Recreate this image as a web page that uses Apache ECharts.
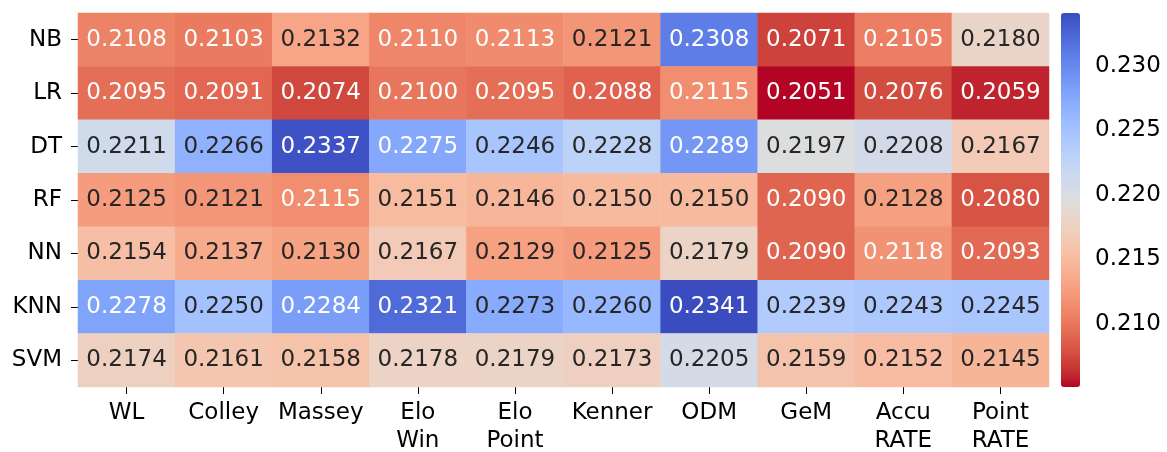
<!DOCTYPE html>
<html>
<head>
<meta charset="utf-8">
<script src="https://cdn.jsdelivr.net/npm/echarts@6/dist/echarts.min.js"></script>
<style>
  html, body { margin: 0; padding: 0; background: #fff; }
  #chart { width: 1167px; height: 452px; }
</style>
</head>
<body>
<div id="chart"></div>
<script>
// Row (model) and column (rating method) labels
const models = ['NB', 'LR', 'DT', 'RF', 'NN', 'KNN', 'SVM'];
const methods = ['WL', 'Colley', 'Massey', 'Elo\nWin', 'Elo\nPoint', 'Kenner', 'ODM', 'GeM', 'Accu\nRATE', 'Point\nRATE'];

// Scores per model, in the order of `methods`
const scoresNB  = [0.2108, 0.2103, 0.2132, 0.2110, 0.2113, 0.2121, 0.2308, 0.2071, 0.2105, 0.2180];
const scoresLR  = [0.2095, 0.2091, 0.2074, 0.2100, 0.2095, 0.2088, 0.2115, 0.2051, 0.2076, 0.2059];
const scoresDT  = [0.2211, 0.2266, 0.2337, 0.2275, 0.2246, 0.2228, 0.2289, 0.2197, 0.2208, 0.2167];
const scoresRF  = [0.2125, 0.2121, 0.2115, 0.2151, 0.2146, 0.2150, 0.2150, 0.2090, 0.2128, 0.2080];
const scoresNN  = [0.2154, 0.2137, 0.2130, 0.2167, 0.2129, 0.2125, 0.2179, 0.2090, 0.2118, 0.2093];
const scoresKNN = [0.2278, 0.2250, 0.2284, 0.2321, 0.2273, 0.2260, 0.2341, 0.2239, 0.2243, 0.2245];
const scoresSVM = [0.2174, 0.2161, 0.2158, 0.2178, 0.2179, 0.2173, 0.2205, 0.2159, 0.2152, 0.2145];

// Colour bar range and ticks
const colorMin = 0.2051;
const colorMax = 0.2341;
const colorTicks = [0.210, 0.215, 0.220, 0.225, 0.230];

// Diverging cool-warm palette, blue -> grey -> red (Moreland)
const coolwarm = [
  [59,76,192],[68,90,204],[77,104,215],[87,117,225],[98,130,234],[108,142,241],
  [119,154,247],[130,165,251],[141,176,254],[152,185,255],[163,194,255],[174,201,253],
  [184,208,249],[194,213,244],[204,217,238],[213,219,230],[221,221,221],[229,216,209],
  [236,211,197],[241,204,185],[245,196,173],[247,187,160],[247,177,148],[247,166,135],
  [244,154,123],[241,141,111],[236,127,99],[229,112,88],[222,96,77],[213,80,66],
  [203,62,56],[192,40,47],[180,4,38]
];
// reversed: low values red, high values blue
const palette = coolwarm.slice().reverse();
const paletteHex = palette.map(c => '#' + c.map(v => v.toString(16).padStart(2, '0')).join(''));

function colorFor(v) {
  let t = (v - colorMin) / (colorMax - colorMin);
  t = Math.max(0, Math.min(1, t));
  const pos = t * (palette.length - 1);
  const i = Math.min(palette.length - 2, Math.floor(pos));
  const f = pos - i;
  return palette[i].map((c, k) => c + (palette[i + 1][k] - c) * f);
}
function luminance(rgb) {
  const lin = rgb.map(c => {
    const s = c / 255;
    return s <= 0.03928 ? s / 12.92 : Math.pow((s + 0.055) / 1.055, 2.4);
  });
  return 0.2126 * lin[0] + 0.7152 * lin[1] + 0.0722 * lin[2];
}

const table = [scoresNB, scoresLR, scoresDT, scoresRF, scoresNN, scoresKNN, scoresSVM];
const cells = [];
table.forEach((row, r) => {
  row.forEach((v, c) => {
    const dark = luminance(colorFor(v)) > 0.408;
    cells.push({ value: [c, r, v], label: { color: dark ? '#262626' : '#ffffff' } });
  });
});

const FONT = 'DejaVu Sans';
const FS = 23;

const chart = echarts.init(document.getElementById('chart'), null, { renderer: 'canvas' });
chart.setOption({
  animation: false,
  backgroundColor: '#ffffff',
  textStyle: { fontFamily: FONT },
  grid: [
    { left: 78, top: 13, width: 971, height: 374, outerBoundsMode: 'none', containLabel: false },
    { left: 1061, top: 13, width: 19, height: 374, outerBoundsMode: 'none', containLabel: false }
  ],
  xAxis: [
    {
      type: 'category', data: methods, gridIndex: 0, position: 'bottom',
      axisLine: { show: false },
      axisTick: { show: true, alignWithLabel: true, length: 7, lineStyle: { color: '#000', width: 1 } },
      axisLabel: { fontFamily: FONT, fontSize: FS, color: '#000', margin: 12, lineHeight: 28, interval: 0 },
      splitLine: { show: false }
    },
    { type: 'value', gridIndex: 1, show: false, min: 0, max: 1 }
  ],
  yAxis: [
    {
      type: 'category', data: models, gridIndex: 0, inverse: true,
      axisLine: { show: false },
      axisTick: { show: true, alignWithLabel: true, length: 7, lineStyle: { color: '#000', width: 1 } },
      axisLabel: { fontFamily: FONT, fontSize: FS, color: '#000', margin: 16 },
      splitLine: { show: false }
    },
    {
      type: 'value', gridIndex: 1, position: 'right', min: colorMin, max: colorMax,
      axisLine: { show: false },
      axisTick: { show: true, customValues: colorTicks, length: 7, lineStyle: { color: '#000', width: 1 } },
      axisLabel: {
        show: true, customValues: colorTicks, fontFamily: FONT, fontSize: FS, color: '#000', margin: 15,
        formatter: v => v.toFixed(3)
      },
      splitLine: { show: false }
    }
  ],
  visualMap: {
    type: 'continuous',
    min: colorMin, max: colorMax,
    seriesIndex: 0,
    calculable: false,
    hoverLink: false,
    orient: 'vertical',
    left: 1061, top: 13,
    itemWidth: 19, itemHeight: 374,
    padding: 0,
    text: null,
    inRange: { color: paletteHex }
  },
  series: [
    {
      type: 'heatmap',
      xAxisIndex: 0, yAxisIndex: 0,
      data: cells,
      itemStyle: { borderWidth: 0 },
      label: {
        show: true, fontFamily: FONT, fontSize: FS,
        formatter: p => p.value[2].toFixed(4)
      },
      emphasis: { disabled: true }
    },
    { type: 'scatter', xAxisIndex: 1, yAxisIndex: 1, data: [], silent: true }
  ]
});
</script>
</body>
</html>
